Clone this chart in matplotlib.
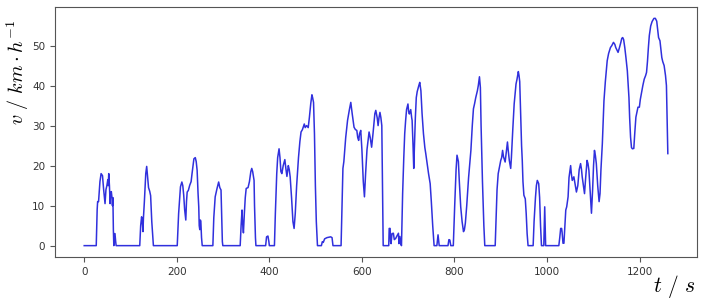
import matplotlib
matplotlib.use('Agg')
import matplotlib.pyplot as plt

# Speed trace, segment by segment (time in s, speed in km/h)
time_s = [
    0, 26, 28, 29, 31, 34, 36.5, 39.5, 42, 45, 47, 49, 51, 52, 53, 54.5, 56, 57, 58.6, 60, 61, 62, 63, 64, 65, 66.5, 68, 69,
    120, 122, 124, 125.5, 127, 128, 130, 133, 135, 137, 139, 141.5, 143.5, 146, 149.5,
    201, 204, 208, 211, 213, 215, 217, 219.5, 221, 222.5, 225, 228, 231, 233, 237, 240, 242, 244, 246, 247.5, 248.5,
    249.7, 251, 252, 253.5, 255,
    278, 280, 283, 287, 290.5, 293, 295.6, 297, 298.5, 299.5,
    337, 339, 341, 342, 344, 346, 348, 350, 354, 357, 360, 362, 364, 367, 368, 370, 371,
    392, 394, 397, 399, 400,
    411, 413, 416, 418, 421, 423, 425, 427, 430, 433.5, 436, 438, 441, 443, 445, 448, 451, 453.5, 456, 459, 463, 466,
    468.5, 471.5, 475.5, 477.5, 480.5, 484, 486.5, 489.5, 492, 493.5, 495.5, 497.5, 499.5, 501.5, 504,
    512.5, 514.5, 516.5, 519.5, 524.5, 532.5, 535.5, 537.5,
    555, 557, 559, 561, 565, 569, 573, 576, 579, 583, 586, 589, 591, 593, 595, 597.5, 600, 603, 605.5, 608, 611, 615.5,
    618, 621, 624, 628, 630, 633, 635, 637, 639, 641, 643, 644.5, 646,
    658, 659, 661, 662, 663, 665, 668, 670, 673, 676, 679, 680, 682, 684,
    685.5, 688, 690.5, 692.5, 694.5, 696.5, 699.5, 701, 702.5, 705.5, 707.5, 708.5, 710.5, 712, 713.5, 715.5, 717.5,
    719.5, 721.5, 723, 725, 727.5, 730, 733, 736, 738, 741, 744, 747.5, 750, 753, 756,
    762, 764.5, 767, 786, 788, 790, 792,
    797.5, 800.5, 803.5, 805.5, 808.5, 810.5, 813.5, 816.5, 819.5, 821.5, 823.5, 826.5, 830.5, 835.5, 838.5, 841, 843.5,
    846, 849.5, 851.5, 854, 856, 857.5, 860.5, 863.5, 865.5,
    888, 890, 892, 894.5, 897, 900, 902, 904, 906, 908, 909.5, 912, 914.5, 916, 918.5, 921.5, 923, 926, 929, 931, 933,
    935, 938, 939.5, 941, 943, 945, 946.5, 948, 950, 953, 955, 957, 959,
    970, 972, 975, 977, 979, 982, 984, 986, 988,
    993, 995, 997,
    1025.5, 1027.5, 1029.5, 1031.5, 1032.5, 1034.5, 1036.5, 1038.5, 1040.5, 1042.5, 1045.5, 1047.5, 1051, 1052.5, 1054.5,
    1058, 1060.5, 1063.5, 1066.5, 1069.5, 1072.5, 1074.5, 1076, 1078.5, 1081, 1083.5, 1086.5, 1088.5, 1090.5, 1092.5,
    1096, 1098.5, 1100.5, 1102.5, 1104.5, 1106.5, 1109.5, 1112.5, 1114.5, 1116.5, 1119.5, 1123, 1126, 1130, 1133, 1137,
    1140, 1143.5, 1146.5, 1148.5, 1153.5, 1156.5, 1159.5, 1161.5, 1163.5, 1165.5, 1168, 1170.5, 1173.5, 1177, 1178.5,
    1180.5, 1182.5, 1184.5, 1187.5, 1189.5, 1192, 1194.5, 1196.5, 1199.5, 1201.5, 1205, 1207, 1210, 1213, 1215, 1217,
    1219, 1221, 1224, 1227, 1231, 1234, 1237, 1239, 1241, 1244, 1246, 1248, 1250, 1253, 1256, 1258, 1261,
]
speed_kmh = [
    0, 0, 9, 11, 11, 16, 18, 17.5, 14, 10.5, 14, 15, 16.5, 15, 18, 15, 10.5, 13, 13.5, 12, 10, 12, 4, 0, 3, 3, 1, 0,
    0, 5, 7.2, 6, 3.5, 7, 11, 18, 19.8, 17, 14.5, 13.6, 12.5, 6, 0,
    0, 8, 14.7, 15.9, 15, 12.6, 9, 6.4, 11, 13.4, 13.8, 15.1, 16, 18, 21.7, 22, 21, 18.8, 13, 9.7, 5,
    4, 6.4, 6, 2, 0,
    0, 7, 12.2, 14.3, 15.9, 14.5, 13.9, 8, 1, 0,
    0, 5, 8.9, 6, 3.2, 8, 12, 14.3, 14.5, 16, 18.5, 19.3, 18.5, 16.3, 10, 2, 0,
    0, 2.2, 2.4, 1, 0,
    0, 8, 18, 22, 24.2, 22, 18.5, 18, 20, 21.5, 19, 17.3, 20, 19, 17.2, 12, 6, 4.3, 8, 15, 22, 26,
    28.4, 29, 30.4, 29.5, 30, 29.5, 32, 35.5, 37.7, 37, 35.8, 28, 15, 6, 0,
    0, 1, 0.8, 1.7, 2.0, 2.2, 2, 0,
    0, 10, 19.3, 21, 27, 31.3, 34, 35.8, 33, 29.6, 29, 28.8, 27, 26.3, 28, 28.8, 24, 16, 12.2, 18, 24, 28.4,
    27, 24.6, 28, 33, 33.8, 32, 30, 32, 33.3, 32, 30, 15, 0,
    0, 4.3, 4.3, 1, 0.5, 3, 3.1, 1.5, 1.8, 2.5, 3.1, 0.5, 2.3, 0.5,
    0, 13, 22, 28, 31.3, 34, 35.4, 33.5, 32.9, 34, 32, 31.3, 25, 19.3, 25, 32, 37,
    38.5, 39.4, 40, 40.8, 38.7, 33, 28, 24.5, 23, 20.5, 18, 15.5, 11, 5, 0,
    0, 2.7, 0, 0, 1.5, 1.4, 0,
    0, 10, 19, 22.6, 21, 16, 9.7, 6, 3.5, 4, 5.6, 10, 17, 23.8, 30, 34.2, 35.5,
    37, 38.7, 40, 42.2, 39.5, 30, 16, 5, 0,
    0, 7, 14, 18, 19.5, 21.3, 22, 23.8, 22.2, 21.5, 20.9, 23.5, 25.9, 24, 21.3, 19.3, 22, 29, 35.4, 38, 40.4,
    41.5, 43.5, 42.5, 41, 33, 25, 21.3, 16, 12.6, 11.7, 8, 3, 0,
    0, 6, 12, 15, 16.3, 15.5, 12, 5, 0,
    0, 9.7, 0,
    0, 2, 4.3, 4.3, 3.4, 0.6, 0.6, 5, 8.9, 9.7, 12.2, 17, 20, 18, 16.3,
    17.2, 15.5, 13.4, 15, 19, 20.5, 19, 17.2, 15, 13, 17, 21.3, 20.5, 18.8, 15,
    8.1, 14, 20, 23.8, 22.5, 20.5, 15, 11, 13, 19, 25.5, 36.2, 41, 46.2, 48, 49.5,
    50, 50.8, 50.3, 49.5, 48.3, 49.5, 50.8, 51.8, 52, 51.5, 49.5, 47, 43.7, 37, 32,
    27.1, 24.5, 24.2, 24.3, 28, 32.1, 33.5, 34.6, 34.6, 36.5, 38.7, 40, 41.6, 42.5, 43.3, 46,
    49.5, 52.5, 54.9, 56, 56.8, 56.8, 56.1, 54, 52, 51.2, 49, 47, 46, 45, 42.5, 40, 23,
]

plt.rcParams['mathtext.fontset'] = 'cm'

fig = plt.figure(figsize=(7.1, 3.04), dpi=100)
ax = fig.add_axes([0.0775, 0.1546, 0.9042, 0.8224])

ax.plot(time_s, speed_kmh, color='#3030dd', linewidth=1.1)

ax.set_xticks([0, 200, 400, 600, 800, 1000, 1200])
ax.set_yticks([0, 10, 20, 30, 40, 50])
ax.tick_params(labelsize=7.5, labelcolor='#333333', color='#555555', length=3.5)
for s in ax.spines.values():
    s.set_color('#555555')

# axis labels placed where the reference has them (top-left / bottom-right)
ylab = ax.set_ylabel(r'$v\ /\ km \cdot h^{-1}$', fontsize=14.5)
ylab.set_verticalalignment('center')
ylab.set_rotation_mode('default')
ax.yaxis.set_label_coords(18 / 710, 1 - 72 / 304, transform=fig.transFigure)

xlab = ax.set_xlabel(r'$t\ /\ s$', fontsize=15.5)
ax.xaxis.set_label_coords(674 / 710, 1 - 287 / 304, transform=fig.transFigure)
xlab.set_verticalalignment('center')

plt.savefig('out.png', dpi=100)
